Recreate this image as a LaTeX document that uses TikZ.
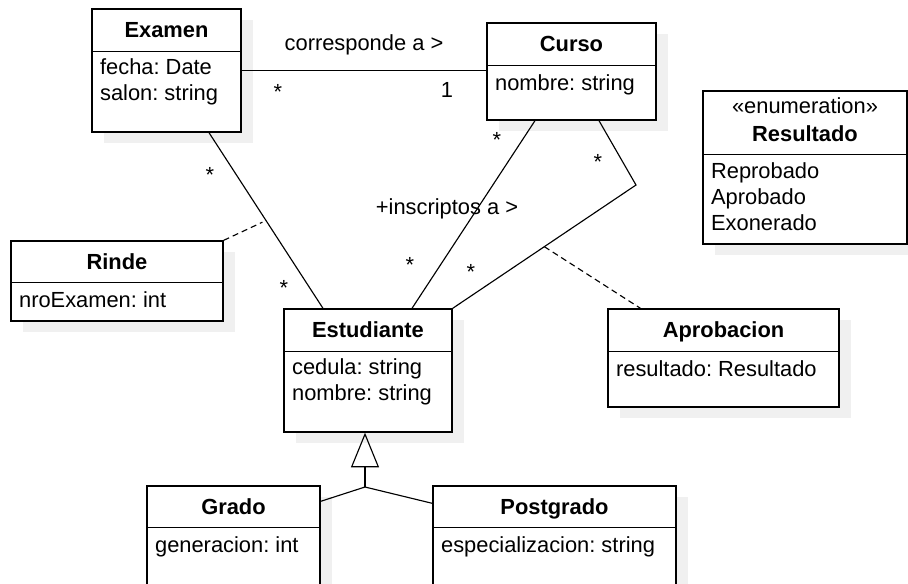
\documentclass[tikz,border=0pt]{standalone}
\usepackage{fontspec}
\setmainfont{Liberation Sans}
\usetikzlibrary{calc,arrows.meta,shadows}
\frenchspacing

\begin{document}
\begin{tikzpicture}[x=0.75pt, y=-0.75pt,
    font=\fontsize{16.4}{19.5}\selectfont,
    classbox/.style={draw, rectangle, fill=white, line width=1pt,
      drop shadow={shadow xshift=9pt, shadow yshift=-8.25pt, fill=black!6, opacity=1}},
    classname/.style={font=\fontsize{16.4}{19.5}\selectfont\bfseries, text height=11.7pt, text depth=0pt},
    attrs/.style={anchor=north west, align=left, inner sep=0pt, execute at begin node=\strut},
    mult/.style={inner sep=0pt},
    boxline/.style={line width=1pt},
    assoc/.style={line width=0.85pt},
    dassoc/.style={line width=0.85pt, dash pattern=on 4.5pt off 3pt}]
    % 背景
    \useasboundingbox (0,0) rectangle (908,583);
    \clip (0,0) rectangle (908,583);

    % 类
    \node[classbox, minimum width=111.75pt, minimum height=92.25pt] (examen) at (166.5,70.5) {};
    \node[classbox, minimum width=126.75pt, minimum height=72.75pt] (curso) at (571.5,71.5) {};
    \node[classbox, minimum width=153pt, minimum height=114.75pt] (resultado) at (805,167.5) {};
    \node[classbox, minimum width=159pt, minimum height=60pt] (rinde) at (117,281) {};
    \node[classbox, minimum width=126pt, minimum height=92.25pt] (estudiante) at (368,370.5) {};
    \node[classbox, minimum width=173.25pt, minimum height=73.5pt] (aprobacion) at (723.5,358) {};
    \node[classbox, minimum width=129.75pt, minimum height=75pt] (grado) at (233.5,536) {};
    \node[classbox, minimum width=182.25pt, minimum height=75pt] (postgrado) at (554.5,536) {};

    % 分隔线
    \draw[boxline] ($(examen.north west)+(0,43)$) -- ($(examen.north east)+(0,43)$);
    \draw[boxline] ($(curso.north west)+(0,43)$) -- ($(curso.north east)+(0,43)$);
    \draw[boxline] ($(resultado.north west)+(0,64)$) -- ($(resultado.north east)+(0,64)$);
    \draw[boxline] ($(rinde.north west)+(0,42)$) -- ($(rinde.north east)+(0,42)$);
    \draw[boxline] ($(estudiante.north west)+(0,43)$) -- ($(estudiante.north east)+(0,43)$);
    \draw[boxline] ($(aprobacion.north west)+(0,43)$) -- ($(aprobacion.north east)+(0,43)$);
    \draw[boxline] ($(grado.north west)+(0,42)$) -- ($(grado.north east)+(0,42)$);
    \draw[boxline] ($(postgrado.north west)+(0,42)$) -- ($(postgrado.north east)+(0,42)$);

    % 类名
    \node[classname] (examen-n) at ($(examen.north)+(0,21.5)$) {Examen};
    \node[classname] (curso-n) at ($(curso.north)+(0,21.5)$) {Curso};
    \node[align=center, anchor=north] (resultado-n) at ($(resultado.north)+(0,3)$) {«enumeration»\\[1pt]\textbf{Resultado}};
    \node[classname] (rinde-n) at ($(rinde.north)+(0,21)$) {Rinde};
    \node[classname] (estudiante-n) at ($(estudiante.north)+(0,21.5)$) {Estudiante};
    \node[classname] (aprobacion-n) at ($(aprobacion.north)+(0,21.5)$) {Aprobacion};
    \node[classname] (grado-n) at ($(grado.north)+(0,21)$) {Grado};
    \node[classname] (postgrado-n) at ($(postgrado.north)+(0,21)$) {Postgrado};

    % 属性
    \node[attrs] (examen-a) at ($(examen.north west)+(8.5,50)$) {fecha: Date\\salon: string};
    \node[attrs] (curso-a) at ($(curso.north west)+(8.5,50)$) {nombre: string};
    \node[attrs] (resultado-a) at ($(resultado.north west)+(8.5,72)$) {Reprobado\\Aprobado\\Exonerado};
    \node[attrs] (rinde-a) at ($(rinde.north west)+(8.5,49)$) {nroExamen: int};
    \node[attrs] (estudiante-a) at ($(estudiante.north west)+(8.5,50)$) {cedula: string\\nombre: string};
    \node[attrs] (aprobacion-a) at ($(aprobacion.north west)+(8.5,50)$) {resultado: Resultado};
    \node[attrs] (grado-a) at ($(grado.north west)+(8.5,49)$) {generacion: int};
    \node[attrs] (postgrado-a) at ($(postgrado.north west)+(8.5,49)$) {especializacion: string};

    % 关联
    \coordinate (ex-s) at ($(examen.south)+(42.5,0)$);
    \coordinate (es-a) at ($(estudiante.north)+(-45,0)$);
    \coordinate (cu-a) at ($(curso.south)+(-36.5,0)$);
    \coordinate (es-b) at ($(estudiante.north)+(44,0)$);
    \coordinate (cu-b) at ($(curso.south)+(27.5,0)$);
    \coordinate (bend) at (636,185);
    \draw[assoc] (examen.east) -- (examen.east -| curso.west);
    \draw[assoc] (ex-s) -- (es-a);
    \draw[assoc] (cu-a) -- (es-b);
    \draw[assoc] (cu-b) -- (bend) -- (estudiante.north east);

    % 关联类
    \coordinate (rinde-m) at ($(ex-s)!0.5!(es-a)$);
    \coordinate (aprob-m) at ($(bend)!0.5!(estudiante.north east)$);
    \coordinate (aprob-t) at ($(aprobacion.north)+(-83,0)$);
    \draw[dassoc, shorten >=3pt] (rinde.north east) -- (rinde-m);
    \draw[dassoc] (aprob-m) -- (aprob-t);

    % 继承
    \coordinate (gen) at (365,487);
    \coordinate (grado-j) at ($(grado.north east)+(0,16)$);
    \coordinate (postgrado-j) at ($(postgrado.north west)+(0,18)$);
    \draw[assoc] (grado-j) -- (gen) -- (postgrado-j);
    \draw[assoc, -{Triangle[open, length=26pt, width=21pt]}] (gen) -- (gen |- estudiante.south);

    % 多重性
    \node[mult] (mul1) at (278,92) {*};
    \node[mult] (mul2) at (447,90) {1};
    \node[mult] (mul3) at (210,175) {*};
    \node[mult] (mul4) at (284,288) {*};
    \node[mult] (mul5) at (497,140) {*};
    \node[mult] (mul6) at (410,265) {*};
    \node[mult] (mul7) at (598,162) {*};
    \node[mult] (mul8) at (471,272) {*};

    % 标签
    \node (corresp) at (364,45) {corresponde a >};
    \node (inscr) at (447,209) {+inscriptos a >};
\end{tikzpicture}
\end{document}
